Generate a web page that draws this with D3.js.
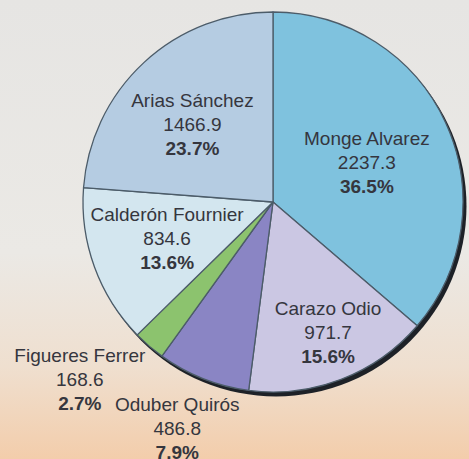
<!DOCTYPE html>
<html>
<head>
<meta charset="utf-8">
<script src="https://cdn.jsdelivr.net/npm/d3@7"></script>
<style>
  html, body { margin: 0; padding: 0; }
  body { width: 469px; height: 459px; overflow: hidden; }
</style>
</head>
<body>
<div id="chart"></div>
<script>
// Data (clockwise from 12 o'clock)
const names = ["Monge Alvarez", "Carazo Odio", "Oduber Quirós", "Figueres Ferrer", "Calderón Fournier", "Arias Sánchez"];
const values = [2237.3, 971.7, 486.8, 168.6, 834.6, 1466.9];
const valueLabels = ["2237.3", "971.7", "486.8", "168.6", "834.6", "1466.9"];
const percentLabels = ["36.5%", "15.6%", "7.9%", "2.7%", "13.6%", "23.7%"];

// Styling
const colors = ["#7fc2de", "#cbc7e3", "#8a85c4", "#8cc36e", "#d3e6ef", "#b5cce2"];
// label placement: [angle (deg from north), radius in px] around pie centre
const labelPlacement = [[67, 102], [157, 141], [203, 245], [227.5, 262], [251, 112], [314, 112]];

const width = 469, height = 459;
const cx = 273, cy = 202, radius = 190;

const svg = d3.select("#chart").append("svg")
    .attr("width", width)
    .attr("height", height);

// Paper background
const defs = svg.append("defs");
const bg = defs.append("linearGradient")
    .attr("id", "paper")
    .attr("x1", "0%").attr("y1", "0%")
    .attr("x2", "0%").attr("y2", "100%");
bg.append("stop").attr("offset", "0%").attr("stop-color", "#e6e5e3");
bg.append("stop").attr("offset", "55%").attr("stop-color", "#ebe9e5");
bg.append("stop").attr("offset", "80%").attr("stop-color", "#efdfcf");
bg.append("stop").attr("offset", "100%").attr("stop-color", "#f3cdab");

svg.append("rect")
    .attr("width", width)
    .attr("height", height)
    .attr("fill", "url(#paper)");

const pie = d3.pie().sort(null).value(d => d);
const arcs = pie(values);
const arc = d3.arc().innerRadius(0).outerRadius(radius);

const g = svg.append("g").attr("transform", `translate(${cx},${cy})`);

// Drop shadow on lower right
g.append("circle")
    .attr("cx", 3)
    .attr("cy", 4)
    .attr("r", radius + 0.5)
    .attr("fill", "#1d2127");

// Slices
g.selectAll("path.slice")
    .data(arcs)
    .join("path")
    .attr("class", "slice")
    .attr("d", arc)
    .attr("fill", (d, i) => colors[i])
    .attr("stroke", "#4c5c69")
    .attr("stroke-width", 1.3)
    .attr("stroke-linejoin", "round");

// Labels
const labels = svg.append("g")
    .attr("font-family", "'Liberation Sans', Arial, sans-serif")
    .attr("font-size", 19)
    .attr("fill", "#35363e")
    .attr("text-anchor", "middle");

const lineGap = 24;
arcs.forEach((d, i) => {
    const [ang, r] = labelPlacement[i];
    const a = ang * Math.PI / 180;
    const x = cx + r * Math.sin(a);
    const y = cy - r * Math.cos(a);
    const t = labels.append("text")
        .attr("x", x)
        .attr("y", y + 7);
    t.append("tspan").attr("x", x).attr("dy", -lineGap).text(names[i]);
    t.append("tspan").attr("x", x).attr("dy", lineGap).text(valueLabels[i]);
    t.append("tspan").attr("x", x).attr("dy", lineGap)
        .attr("font-weight", "bold")
        .text(percentLabels[i]);
});
</script>
</body>
</html>
